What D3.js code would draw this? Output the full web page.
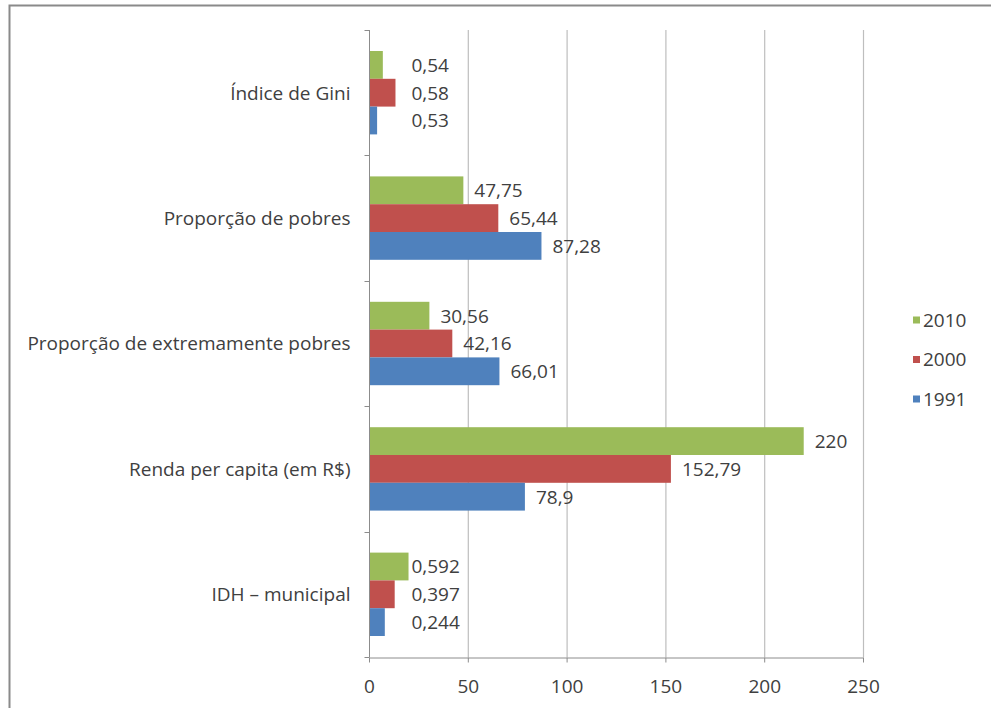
<!DOCTYPE html>
<html>
<head>
<meta charset="utf-8">
<script src="https://cdn.jsdelivr.net/npm/d3@7"></script>
<style>
  body { margin: 0; background: #fff; }
  text { font-family: "Open Sans", sans-serif; fill: #404040; }
</style>
</head>
<body>
<div class="chart"></div>
<script>
// categories, top to bottom
let categories = ["Índice de Gini", "Proporção de pobres", "Proporção de extremamente pobres",
                  "Renda per capita (em R$)", "IDH – municipal"];
let years = ["2010", "2000", "1991"];

// bar lengths as drawn in the picture
let values2010 = [7.0, 47.75, 30.56, 220, 20.0];
let values2000 = [13.4, 65.44, 42.16, 152.79, 13.0];
let values1991 = [4.1, 87.28, 66.01, 78.9, 8.0];

// data labels as printed
let labels2010 = ["0,54", "47,75", "30,56", "220", "0,592"];
let labels2000 = ["0,58", "65,44", "42,16", "152,79", "0,397"];
let labels1991 = ["0,53", "87,28", "66,01", "78,9", "0,244"];

let xTicks = [0, 50, 100, 150, 200, 250];
let colors = {"2010": "#9bbb59", "2000": "#c0504d", "1991": "#4f81bd"};

let W = 991, H = 708;
let plot = {left: 369, right: 863, top: 30, bottom: 657};
let fs = "19px";

let svg = d3.select(".chart").append("svg")
    .attr("width", W)
    .attr("height", H);

// outer frame (runs off the right and bottom edge)
svg.append("rect")
    .attr("x", 9.5).attr("y", 5.5)
    .attr("width", 1100).attr("height", 1100)
    .attr("fill", "none")
    .attr("stroke", "#8a8a8a")
    .attr("stroke-width", 2);

let x = d3.scaleLinear().domain([0, 250]).range([plot.left, plot.right]);
let y = d3.scaleBand().domain(categories).range([plot.top, plot.bottom])
    .paddingInner(0.335).paddingOuter(0.1675);
let ySub = d3.scaleBand().domain(years).range([0, y.bandwidth()]);

// grid
svg.append("g").selectAll("line")
    .data(xTicks.slice(1))
    .enter().append("line")
    .attr("x1", d => x(d) + 0.5).attr("x2", d => x(d) + 0.5)
    .attr("y1", plot.top).attr("y2", plot.bottom)
    .attr("stroke", "#bebebe").attr("stroke-width", 1.2);

let rows = [];
categories.forEach((c, i) => {
    let vals = [values2010[i], values2000[i], values1991[i]];
    let labs = [labels2010[i], labels2000[i], labels1991[i]];
    let groupMax = d3.max(vals);
    years.forEach((yr, j) => {
        rows.push({cat: c, year: yr, value: vals[j], label: labs[j], small: groupMax < 25});
    });
});

svg.append("g").selectAll("rect")
    .data(rows)
    .enter().append("rect")
    .attr("x", x(0))
    .attr("y", d => y(d.cat) + ySub(d.year))
    .attr("width", d => x(d.value) - x(0))
    .attr("height", ySub.bandwidth())
    .attr("fill", d => colors[d.year]);

// data labels (small groups were lined up by hand in the original)
svg.append("g").selectAll("text")
    .data(rows)
    .enter().append("text")
    .attr("x", d => d.small ? x(21.5) : x(d.value) + 11)
    .attr("y", d => y(d.cat) + ySub(d.year) + ySub.bandwidth() / 2)
    .attr("dy", "0.36em")
    .style("font-size", fs)
    .text(d => d.label);

// left axis
let yAxis = svg.append("g")
    .attr("transform", "translate(" + (x(0) + 0.5) + ",0)");
yAxis.append("line")
    .attr("y1", plot.top).attr("y2", plot.bottom)
    .attr("stroke", "#8c8c8c");
yAxis.selectAll(".tk")
    .data(d3.range(categories.length + 1))
    .enter().append("line")
    .attr("x1", -5).attr("x2", 0)
    .attr("y1", d => Math.round(plot.top + d * y.step()) + 0.5)
    .attr("y2", d => Math.round(plot.top + d * y.step()) + 0.5)
    .attr("stroke", "#8c8c8c");
yAxis.selectAll(".lbl")
    .data(categories)
    .enter().append("text")
    .attr("x", -19)
    .attr("y", d => y(d) + y.bandwidth() / 2)
    .attr("dy", "0.36em")
    .attr("text-anchor", "end")
    .style("font-size", fs)
    .text(d => d);

// bottom axis
let xAxis = svg.append("g")
    .attr("transform", "translate(0," + (plot.bottom + 0.5) + ")")
    .call(d3.axisBottom(x).tickValues(xTicks).tickSize(5).tickSizeOuter(0).tickPadding(17));
xAxis.select(".domain").attr("stroke", "#8c8c8c");
xAxis.selectAll(".tick line").attr("stroke", "#8c8c8c");
xAxis.selectAll(".tick text")
    .style("font-family", "Open Sans, sans-serif")
    .style("font-size", fs)
    .attr("fill", "#404040");

// legend
let legend = svg.append("g").attr("transform", "translate(913,320)");
years.forEach((yr, i) => {
    let g = legend.append("g").attr("transform", "translate(0," + i * 39.5 + ")");
    g.append("rect").attr("x", 0).attr("y", -3.5).attr("width", 7).attr("height", 7)
        .attr("fill", colors[yr]);
    g.append("text").attr("x", 10).attr("dy", "0.36em")
        .style("font-size", fs).text(yr);
});
</script>
</body>
</html>
